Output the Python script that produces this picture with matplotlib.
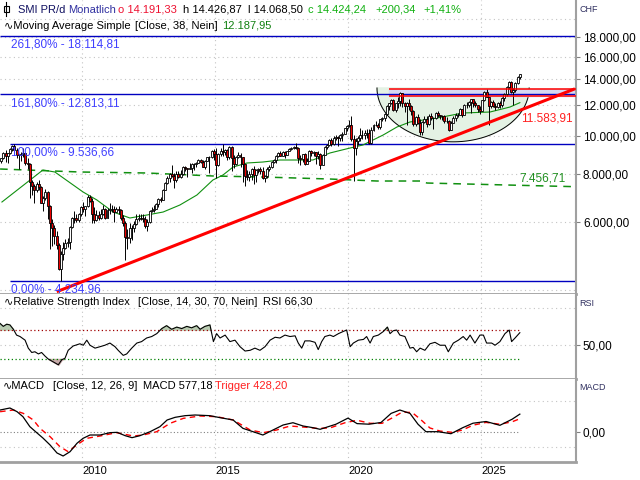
import matplotlib
matplotlib.use('Agg')
import matplotlib.pyplot as plt
import matplotlib.transforms as mtransforms
from matplotlib.patches import Rectangle
from matplotlib.lines import Line2D
from matplotlib.ticker import NullLocator
import numpy as np

plt.rcParams['font.family'] = ['Liberation Sans', 'DejaVu Sans']
plt.rcParams['font.size'] = 8

# SMI monthly candles, Dec 2006 .. Jun 2026
first_year, first_month = 2006, 12
first_open = 8600
closes = [8786,
    9043, 8888, 9018, 9280, 9440, 9180, 8920, 8910, 8990, 9040, 8540, 8484,
    7600, 7420, 7250, 7500, 7380, 6720, 6900, 7150, 6580, 5950, 5780, 5534,
    5220, 4530, 4970, 5150, 5290, 5320, 5830, 6150, 6160, 6090, 6280, 6545,
    6480, 6580, 6960, 6800, 6310, 6080, 6270, 6150, 6290, 6500, 6140, 6436,
    6480, 6470, 6350, 6490, 6450, 6160, 5950, 5500, 5450, 5780, 5800, 5936,
    6100, 6140, 6150, 6120, 5860, 6000, 6420, 6440, 6500, 6670, 6880, 6822,
    7250, 7560, 7810, 7970, 7900, 7680, 8000, 7840, 7990, 8300, 8270, 8203,
    8250, 8460, 8450, 8540, 8650, 8550, 8330, 8640, 8840, 8840, 9150, 8983,
    8400, 9010, 9130, 9090, 9180, 8810, 9390, 8800, 8470, 8850, 8950, 8818,
    8460, 7900, 7850, 7960, 8230, 7950, 8150, 8210, 8140, 7800, 7880, 8220,
    8300, 8570, 8660, 8870, 9050, 8900, 9100, 8930, 9160, 9240, 9330, 9382,
    9330, 8800, 8740, 8970, 8460, 8610, 9170, 9050, 9090, 8880, 9000, 8430,
    8940, 9390, 9480, 9770, 9530, 9900, 9960, 9880, 10030, 10110, 10480, 10617,
    10690, 9800, 9310, 9700, 9900, 10050, 10060, 10150, 10200, 9600, 10370, 10700,
    10680, 10530, 11050, 11160, 11420, 11940, 12130, 12390, 11640, 12150, 12300, 12875,
    12150, 11970, 12160, 11970, 11580, 10740, 11200, 10790, 10270, 10890, 11080, 10730,
    11290, 11120, 11110, 11440, 11300, 11280, 11230, 10950, 10960, 10390, 10800, 11138,
    11360, 11330, 11730, 11360, 12000, 12000, 12250, 12420, 12170, 11990, 11740, 11600,
    12350, 12950, 12600, 11950, 12230, 11920, 11850, 12150, 12000, 12500, 12850, 13350,
    13800, 13000, 13150, 13700, 14224, 14424]
highs = [8800,
    9100, 9190, 9060, 9330, 9500, 9537, 9330, 9000, 9080, 9310, 9060, 8760,
    8500, 7700, 7500, 7620, 7700, 7450, 6990, 7280, 7200, 6650, 6100, 5900,
    5700, 5300, 5050, 5320, 5440, 5470, 5860, 6180, 6400, 6310, 6330, 6590,
    6750, 6600, 7040, 7050, 6900, 6560, 6430, 6400, 6500, 6630, 6540, 6530,
    6700, 6640, 6600, 6560, 6600, 6480, 6250, 6050, 5750, 5950, 5900, 6050,
    6290, 6310, 6300, 6300, 6200, 6100, 6460, 6560, 6650, 6720, 6900, 6960,
    7300, 7590, 7870, 8030, 8410, 8050, 8120, 8100, 8160, 8380, 8380, 8290,
    8500, 8500, 8500, 8590, 8720, 8710, 8650, 8650, 8840, 8880, 9200, 9270,
    9300, 9030, 9300, 9530, 9240, 9260, 9420, 9450, 8940, 8900, 9070, 9050,
    8830, 8150, 8150, 8100, 8250, 8380, 8200, 8270, 8300, 8300, 7950, 8300,
    8440, 8630, 8740, 8910, 9120, 9150, 9140, 9130, 9170, 9290, 9390, 9400,
    9620, 9350, 8910, 8990, 9050, 8790, 9190, 9200, 9140, 9100, 9170, 9040,
    9010, 9410, 9530, 9840, 9870, 9980, 10080, 10000, 10120, 10250, 10480, 10700,
    11000, 11260, 10040, 9900, 10000, 10470, 10350, 10350, 10450, 10400, 10530, 10750,
    10950, 10830, 11050, 11200, 11440, 12000, 12170, 12450, 12430, 12160, 12600, 12990,
    12900, 12250, 12260, 12420, 12000, 11700, 11230, 11400, 11070, 10900, 11260, 11250,
    11400, 11450, 11220, 11540, 11600, 11340, 11300, 11300, 11200, 11000, 10900, 11270,
    11460, 11470, 11780, 11770, 12080, 12250, 12320, 12450, 12470, 12300, 11990, 11930,
    12400, 13100, 13200, 12600, 12300, 12400, 12170, 12250, 12300, 12600, 12900, 13450,
    13900, 13850, 13300, 13800, 14300, 14427]
lows = [8500,
    8700, 8560, 8500, 8990, 9150, 9050, 8750, 8210, 8600, 8850, 8420, 8240,
    6900, 7050, 6700, 7150, 7250, 6700, 6400, 6840, 6100, 5100, 5200, 5280,
    5100, 4500, 4235, 4800, 5100, 5170, 5100, 5790, 5970, 5990, 5990, 6200,
    6370, 6230, 6560, 6750, 5980, 5970, 6050, 6060, 6100, 6270, 6100, 6130,
    6300, 6360, 6000, 6350, 6300, 6060, 5850, 4800, 5100, 5300, 5400, 5650,
    5880, 6050, 6060, 6000, 5800, 5700, 5960, 6380, 6350, 6520, 6550, 6770,
    6870, 7250, 7520, 7600, 7860, 7330, 7600, 7780, 7800, 7930, 8100, 7840,
    8200, 8050, 8150, 8300, 8500, 8500, 8330, 8200, 8600, 8050, 8800, 8650,
    7800, 8350, 8900, 8900, 8950, 8650, 8700, 8100, 8250, 8420, 8750, 8300,
    7600, 7410, 7700, 7650, 7700, 7540, 7620, 8050, 8000, 7750, 7600, 7770,
    8120, 8280, 8520, 8520, 8840, 8880, 8880, 8800, 8920, 9140, 9200, 9240,
    9260, 8500, 8430, 8560, 8440, 8450, 8600, 8900, 8900, 8470, 8700, 8200,
    8420, 8950, 9250, 9450, 9420, 9460, 9780, 9450, 9720, 9680, 10100, 10330,
    10540, 9680, 7650, 8950, 9500, 9680, 9850, 9850, 9860, 9550, 9510, 10300,
    10590, 10450, 10400, 10900, 10900, 11330, 11700, 12090, 11620, 11550, 11780, 11960,
    11900, 11500, 10700, 11700, 11300, 10600, 10600, 10760, 10070, 10070, 10800, 10550,
    10700, 11000, 10450, 11050, 11200, 11080, 11000, 10800, 10800, 10280, 10400, 10800,
    10950, 11200, 11300, 11200, 11350, 11840, 11900, 11470, 11900, 11900, 11500, 11400,
    11600, 12340, 12600, 10700, 11800, 11900, 11700, 11830, 11800, 11850, 12300, 12700,
    13200, 12900, 12000, 13000, 13650, 14068]

# SMA 38
sma_t = [2006.99, 2008.53, 2008.98, 2010.04, 2010.56, 2011.17, 2011.80, 2012.44, 2013.05,
         2013.68, 2014.32, 2014.92, 2015.30, 2015.68, 2016.20, 2016.80, 2017.44, 2018.68,
         2019.32, 2020.08, 2020.56, 2021.32, 2021.84, 2022.33, 2023.35, 2024.32, 2025.34,
         2026.09, 2026.46]
sma_v = [6757, 8172, 8075, 7171, 6838, 6367, 6145, 6255, 6367, 6638, 7044, 7700, 7932,
         8318, 8518, 8568, 8671, 8671, 9040, 9312, 9479, 10058, 10548, 10867, 11128, 11463,
         11531, 11878, 12187.95]

# green dashed line
ref_t = [2006.92, 2009.92, 2012.44, 2014.92, 2016.80, 2019.32, 2021.09, 2022.71, 2022.97, 2028.57]
ref_v = [8220, 8075, 8027, 7886, 7838, 7745, 7654, 7654, 7563, 7400]

fib_levels = [18114.81, 12813.11, 9536.66, 4234.96]
fib_labels = ['261,80% - 18.114,81', '161,80% - 12.813,11', '100,00% - 9.536,66', '0,00% - 4.234,96']
fib_start = [2006.92, 2006.92, 2007.29, 2007.29]

trend_t = [2009.05, 2028.53]
trend_v = [3967, 13234]
chan_start = 2021.54
chan_hi, chan_lo = 13190, 12703

rsi_t = [2006.92, 2007.04, 2007.17, 2007.29, 2007.42, 2007.54, 2007.67, 2007.86, 2007.98,
         2008.11, 2008.23, 2008.36, 2008.48, 2008.61, 2008.73, 2008.92, 2009.11, 2009.24,
         2009.36, 2009.48, 2009.67, 2009.92, 2010.05, 2010.18, 2010.30, 2010.49, 2010.68,
         2010.86, 2011.05, 2011.24, 2011.36, 2011.55, 2011.68, 2011.87, 2012.06, 2012.24,
         2012.43, 2012.62, 2012.81, 2013.00, 2013.18, 2013.37, 2013.56, 2013.75, 2013.94,
         2014.12, 2014.31, 2014.44, 2014.62, 2014.81, 2014.94, 2015.06, 2015.19, 2015.38,
         2015.56, 2015.75, 2015.94, 2016.13, 2016.32, 2016.50, 2016.69, 2016.88, 2017.07,
         2017.26, 2017.44, 2017.63, 2017.82, 2018.01, 2018.13, 2018.26, 2018.38, 2018.57,
         2018.76, 2018.88, 2019.01, 2019.13, 2019.32, 2019.45, 2019.64, 2019.82, 2019.95,
         2020.08, 2020.20, 2020.39, 2020.58, 2020.70, 2020.83, 2020.95, 2021.14, 2021.33,
         2021.48, 2021.58, 2021.70, 2021.83, 2021.95, 2022.14, 2022.33, 2022.45, 2022.58,
         2022.71, 2022.89, 2023.08, 2023.27, 2023.46, 2023.65, 2023.77, 2023.96, 2024.15,
         2024.33, 2024.46, 2024.59, 2024.77, 2024.96, 2025.09, 2025.21, 2025.40, 2025.53,
         2025.71, 2025.90, 2026.06, 2026.15, 2026.28, 2026.46]
rsi_v = [79, 75, 78, 77, 71, 63, 61, 56, 45, 39, 40, 37, 39, 34, 30, 26, 22, 29, 31, 42,
         48, 51, 49, 56, 49, 45, 47, 49, 52, 47, 42, 35, 37, 45, 52, 54, 59, 61, 65, 72,
         76, 71, 74, 72, 75, 73, 76, 71, 75, 77, 54, 65, 59, 63, 54, 56, 47, 41, 42, 45,
         42, 47, 56, 60, 59, 63, 61, 62, 52, 45, 55, 55, 53, 43, 54, 61, 63, 61, 65, 68,
         70, 47, 52, 56, 57, 61, 52, 61, 63, 68, 74, 65, 69, 70, 63, 61, 45, 46, 40, 45,
         42, 51, 53, 49, 49, 40, 52, 56, 61, 56, 63, 52, 63, 63, 52, 52, 49, 54, 65, 70,
         54, 59, 66.30]

macd_t = [2006.92, 2007.29, 2007.56, 2007.78, 2008.04, 2008.31, 2008.53, 2008.80, 2009.06,
          2009.29, 2009.55, 2009.81, 2010.04, 2010.30, 2010.68, 2011.05, 2011.32, 2011.62,
          2011.88, 2012.18, 2012.56, 2012.93, 2013.20, 2013.50, 2013.87, 2014.25, 2014.81,
          2015.19, 2015.68, 2016.05, 2016.43, 2016.80, 2017.18, 2017.56, 2017.93, 2018.31,
          2018.68, 2018.95, 2019.55, 2020.00, 2020.34, 2020.79, 2021.24, 2021.62, 2021.95,
          2022.33, 2022.63, 2022.93, 2023.38, 2023.87, 2024.32, 2024.70, 2025.19, 2025.71,
          2026.17, 2026.46]
macd_v = [710, 775, 655, 494, 172, -32, -194, -420, -678, -775, -636, -365, -204, -97, -97,
          -22, -11, -118, -183, -118, 10, 172, 388, 474, 527, 549, 527, 463, 388, 118, 10,
          -97, 65, 226, 300, 194, 140, 87, 252, 449, 271, 252, 307, 601, 710, 601, 252, 10,
          10, -55, 142, 284, 339, 216, 413, 577.18]
trig_t = [2006.92, 2007.42, 2007.79, 2008.17, 2008.42, 2008.80, 2009.17, 2009.48, 2009.80,
          2010.18, 2010.68, 2011.30, 2011.93, 2012.30, 2012.81, 2013.31, 2013.81, 2014.44,
          2015.06, 2015.69, 2016.32, 2016.82, 2017.32, 2017.82, 2018.45, 2018.82, 2019.32,
          2019.89, 2020.34, 2020.83, 2021.28, 2021.65, 2022.03, 2022.41, 2022.71, 2023.08,
          2023.46, 2023.91, 2024.29, 2024.70, 2025.19, 2025.71, 2026.17, 2026.46]
trig_v = [656, 710, 603, 388, 118, -151, -474, -636, -420, -204, -129, -22, -129, -97, 10,
          280, 441, 517, 495, 388, 65, -22, 65, 194, 151, 118, 130, 300, 380, 280, 280, 450,
          640, 630, 420, 130, 30, -10, 60, 220, 310, 250, 330, 428.20]

years = [2010, 2015, 2020, 2025]

# ---------------- figure ----------------
W, H = 640, 480
fig = plt.figure(figsize=(6.4, 4.8), dpi=100)
fig.patch.set_facecolor('white')

def box(top, bottom):
    return [0, 1 - bottom / H, 576 / W, (bottom - top) / H]

ax = fig.add_axes(box(0, 294))
ax_rsi = fig.add_axes(box(294, 379))
ax_macd = fig.add_axes(box(379, 462))

xmin, xmax = 2006.917, 2028.571
grid_kw = dict(color='#c4c4c4', lw=0.8, ls=(0, (1, 3)), zorder=0.5)

for a in (ax, ax_rsi, ax_macd):
    a.set_xlim(xmin, xmax)
    a.set_facecolor('white')
    a.spines['left'].set_visible(False)
    a.spines['top'].set_visible(False)
    a.spines['right'].set_color('#a0a0a0')
    a.spines['right'].set_linewidth(1.5)
    a.spines['bottom'].set_color('#a0a0a0')
    a.spines['bottom'].set_linewidth(2)
    a.yaxis.tick_right()
    a.tick_params(axis='y', length=3, color='#808080', pad=2, labelsize=8.5)
    a.tick_params(axis='x', length=0)
    a.yaxis.set_minor_locator(NullLocator())
    for yr in years:
        a.axvline(yr, **grid_kw)

# ---- main panel ----
ax.set_yscale('log')
ax.set_ylim(3913, 22424)
ticks = [6000, 8000, 10000, 12000, 14000, 16000, 18000]
ax.set_yticks(ticks)
ax.set_yticklabels([f'{v // 1000}.000,00' for v in ticks])
ax.yaxis.set_minor_locator(NullLocator())
ax.set_xticks([])
for v in [4000, 6000, 8000, 10000, 12000, 14000, 16000, 18000, 20000]:
    ax.axhline(v, **grid_kw)

# cup shape
cup_center, cup_halfwidth, cup_top, cup_bottom = 2023.95, 2.86, 13300, 9660
th = np.linspace(np.pi, 2 * np.pi, 120)
cx = cup_center + cup_halfwidth * np.cos(th)
cy = np.exp(np.log(cup_top) + (np.log(cup_top) - np.log(cup_bottom)) * np.sin(th))
ax.fill(cx, cy, color='#e4f2e4', zorder=1)
ax.plot(cx, cy, color='black', lw=0.7, zorder=1.2)

# channel band
ax.fill_between([chan_start, xmax], chan_lo, chan_hi, color='#d6d8f2', zorder=1.5)

# fibonacci
for lev, lab, st in zip(fib_levels, fib_labels, fib_start):
    ax.hlines(lev, st, xmax, color='#0000c0', lw=1.0, zorder=2)
    tr = mtransforms.offset_copy(ax.transData, fig=fig, x=0, y=-9, units='dots')
    ax.text(2007.33, lev, lab, transform=tr, color='#4040ff', fontsize=8.5,
            va='center', ha='left', zorder=6)

ax.plot(ref_t, ref_v, color='#109010', lw=1.1, ls=(0, (5, 4)), zorder=3)
ax.plot(sma_t, sma_v, color='#109010', lw=0.8, zorder=3)

# candles
n = len(closes)
t = np.array([first_year + (first_month - 1 + i + 0.5) / 12 for i in range(n)])
c = np.array(closes, float)
o = np.array([first_open] + closes[:-1], float)
hi = np.maximum(np.array(highs, float), np.maximum(o, c))
lo = np.minimum(np.array(lows, float), np.minimum(o, c))
cols = ['white' if cc >= oo else '#ee0000' for oo, cc in zip(o, c)]
ax.vlines(t, lo, hi, color='black', lw=0.7, zorder=3.9)
ax.bar(t, np.maximum(np.abs(c - o), 1), bottom=np.minimum(o, c), width=0.075,
       color=cols, edgecolor='black', linewidth=0.6, zorder=4)

# trend line and channel lines
ax.plot(trend_t, trend_v, color='#ff0000', lw=2.2, zorder=5, solid_capstyle='butt')
ax.hlines([chan_hi, chan_lo], chan_start, xmax, color='#ff0000', lw=1.1, zorder=5)

tr = mtransforms.offset_copy(ax.transData, fig=fig, x=0, y=-7, units='dots')
ax.text(t[-1] + 0.05, 11583.91, '11.583,91', transform=tr, color='#ff2020',
        fontsize=8.5, va='center', ha='left', zorder=6)
tr = mtransforms.offset_copy(ax.transData, fig=fig, x=0, y=7, units='dots')
ax.text(t[-1], 7456.71, '7.456,71', transform=tr, color='#209020',
        fontsize=8.5, va='center', ha='left', zorder=6)

# ---- RSI panel ----
ax_rsi.set_ylim(2.4, 119.7)
ax_rsi.set_yticks([50])
ax_rsi.set_yticklabels(['50,00'])
ax_rsi.set_xticks([])
for v in [50, 100]:
    ax_rsi.axhline(v, **grid_kw)
rt = np.array(rsi_t)
rv = np.array(rsi_v, float)
ax_rsi.fill_between(rt, rv, 70, where=rv > 70, interpolate=True, color='#b9ccb2', zorder=1)
ax_rsi.fill_between(rt, rv, 30, where=rv < 30, interpolate=True, color='#c9aaaa', zorder=1)
ax_rsi.plot([rt[0], rt[-1]], [70, 70], color='#a00000', lw=0.9, ls=(0, (1, 2)), zorder=2)
ax_rsi.plot([rt[0], rt[-1]], [30, 30], color='#008000', lw=0.9, ls=(0, (1, 2)), zorder=2)
ax_rsi.plot(rt, rv, color='black', lw=0.8, zorder=3)

# ---- MACD panel ----
ax_macd.set_ylim(-969, 1712)
ax_macd.set_yticks([0])
ax_macd.set_yticklabels(['0,00'])
for v in [1000, -500]:
    ax_macd.axhline(v, **grid_kw)
ax_macd.plot([macd_t[0], macd_t[-1]], [0, 0], color='#808080', lw=0.8, ls=(0, (1, 2)), zorder=1)
ax_macd.plot(trig_t, trig_v, color='#ff0000', lw=1.0, ls=(0, (4, 3)), zorder=2)
ax_macd.plot(macd_t, macd_v, color='black', lw=0.9, zorder=3)
ax_macd.set_xticks(years)
ax_macd.set_xticklabels([str(y) for y in years])
ax_macd.tick_params(axis='x', length=0, pad=3, labelsize=8)
for lbl in ax_macd.get_xticklabels():
    lbl.set_ha('left')

# ---- header texts ----
def ftext(x, y, s, color='black', size=8):
    fig.text(x / W, 1 - y / H, s, color=color, fontsize=size, ha='left', va='center')

fig.add_artist(Line2D([6 / W, 6 / W], [1 - 2 / H, 1 - 16 / H], color='black', lw=0.8))
fig.add_artist(Rectangle((3.5 / W, 1 - 12 / H), 5 / W, 6 / H, facecolor='white',
                         edgecolor='black', lw=0.8))
ftext(18, 10, 'SMI PR/d', '#101060')
ftext(68, 10, 'Monatlich', '#3030a0')
ftext(118, 10, 'o 14.191,33', '#ee1030')
ftext(183, 10, 'h 14.426,87')
ftext(248, 10, 'l 14.068,50')
ftext(308, 10, 'c 14.424,24', '#10b010')
ftext(375, 10, '+200,34', '#10b010')
ftext(423, 10, '+1,41%', '#10b010')

ftext(4, 26, '\u223fMoving Average Simple')
ftext(135, 26, '[Close, 38, Nein]')
ftext(222, 26, '12.187,95', '#108010')

ftext(4, 302, '\u223fRelative Strength Index')
ftext(138, 302, '[Close, 14, 30, 70, Nein]')
ftext(263, 302, 'RSI 66,30')

ftext(3, 386, '\u223fMACD')
ftext(53, 386, '[Close, 12, 26, 9]')
ftext(143, 386, 'MACD 577,18')
ftext(215, 386, 'Trigger 428,20', '#ff2020')

ftext(580, 10, 'CHF', '#303060', 6.5)
ftext(579, 303, 'RSI', '#303060', 6.5)
ftext(579, 387, 'MACD', '#303060', 6.5)

fig.savefig('out.png', dpi=100, facecolor='white')
